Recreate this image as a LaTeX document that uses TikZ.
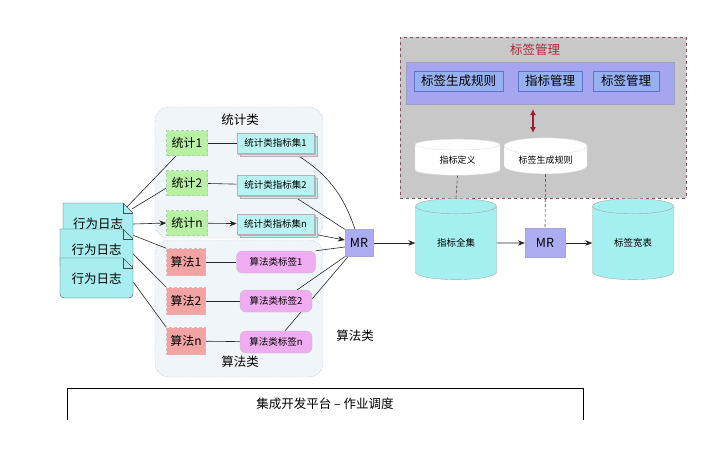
\documentclass[tikz,border=0pt]{standalone}
\usepackage{fontspec}
\setmainfont{Noto Sans CJK SC}
\usepackage{tikz}
\usetikzlibrary{arrows.meta, positioning, shapes.geometric, shadows, backgrounds}
\definecolor{grpfill}{RGB}{240,245,249}
\definecolor{statgreen}{RGB}{184,240,164}
\definecolor{setcyan}{RGB}{184,242,242}
\definecolor{algred}{RGB}{242,164,164}
\definecolor{tagpink}{RGB}{240,172,240}
\definecolor{logcyan}{RGB}{168,238,240}
\definecolor{mrpurple}{RGB}{172,172,240}
\definecolor{dbcyan}{RGB}{164,240,240}
\definecolor{mgrgray}{RGB}{200,200,200}
\definecolor{mgrborder}{RGB}{130,80,95}
\definecolor{mgrtitle}{RGB}{170,40,60}
\definecolor{panelblue}{RGB}{166,166,240}
\definecolor{btnblue}{RGB}{150,176,240}
\definecolor{btnborder}{RGB}{95,115,205}
\definecolor{arrred}{RGB}{165,25,50}
\pgfdeclarelayer{grp}
\pgfdeclarelayer{edges}
\pgfsetlayers{grp,edges,main}

\begin{document}
\begin{tikzpicture}[x=1pt, y=-1pt,
    >={Stealth[length=7pt,width=5.5pt]},
    grpbox/.style={
        draw=gray!80, densely dotted, rounded corners=14pt,
        fill=grpfill, minimum width=168pt, minimum height=#1
    },
    statbox/.style={
        fill=statgreen, draw=green!50!black!35, densely dashed,
        minimum width=41pt, minimum height=25pt, inner sep=0pt,
        font=\fontsize{12}{14}\selectfont
    },
    setbox/.style={
        fill=setcyan, draw=gray!60,
        double copy shadow={shadow xshift=1.5pt, shadow yshift=-1.5pt,
            fill=setcyan, draw=gray!60},
        minimum width=77pt, minimum height=20pt, inner sep=0pt,
        font=\fontsize{9.5}{11}\selectfont
    },
    algbox/.style={
        fill=algred, draw=red!40!gray!40, densely dashed,
        minimum width=39pt, minimum height=27pt, inner sep=0pt,
        font=\fontsize{12}{14}\selectfont
    },
    tagbox/.style={
        fill=tagpink, draw=gray!50, rounded corners=6pt,
        minimum width=#1, minimum height=22pt, inner sep=0pt,
        font=\fontsize{9.5}{11}\selectfont
    },
    mrbox/.style={
        fill=mrpurple, draw=mrpurple!80!gray,
        inner sep=0pt, font=\fontsize{12.5}{14}\selectfont
    },
    dbcyl/.style={
        cylinder, shape border rotate=90, aspect=0.4,
        draw=gray!70, fill=dbcyan,
        minimum width=81pt, minimum height=81pt, inner sep=0pt,
        font=\fontsize{9.5}{11}\selectfont
    },
    rulecyl/.style={
        cylinder, shape border rotate=90, aspect=0.3,
        draw=gray!25, fill=white,
        minimum width=#1, minimum height=36pt, inner sep=0pt,
        font=\fontsize{9}{11}\selectfont
    },
    btn/.style={
        fill=btnblue, draw=btnborder,
        minimum width=#1, minimum height=20pt, inner sep=0pt,
        font=\fontsize{12.5}{14}\selectfont
    },
    lbl/.style={font=\fontsize{12.5}{14}\selectfont, inner sep=0pt},
    logshape/.style={fill=logcyan, draw=black!70},
    link/.style={draw=black!85, line width=0.6pt},
    dashlink/.style={draw=black!70, densely dashed, line width=0.6pt}
]
\useasboundingbox (0,0) rectangle (706,467);

% =========================
% TAG MANAGEMENT
% =========================
\begin{pgfonlayer}{grp}
\node[fill=mgrgray, draw=mgrborder, dashed,
      minimum width=286pt, minimum height=161pt] (MGR) at (543,117.5) {};
\node[grpbox=131pt] (GSTAT) at (239,172.5) {};
\node[grpbox=137pt] (GALG) at (239,308.5) {};
\end{pgfonlayer}
\node[lbl, text=mgrtitle] (MGRT) at (535,50) {标签管理};

\node[fill=panelblue, draw=panelblue!70!black!70,
      minimum width=268pt, minimum height=42pt] (PANEL) at (540,83) {};
\node[btn=89pt] (B1) at (458.5,81) {标签生成规则};
\node[btn=64pt] (B2) at (550,81) {指标管理};
\node[btn=66pt] (B3) at (626,81) {标签管理};

\coordinate (ARRTOP) at (533,109);
\coordinate (ARRBOT) at (533,133);
\draw[{Latex[length=6pt,width=6pt]}-{Latex[length=6pt,width=6pt]},
      line width=2pt, arrred] (ARRTOP) -- (ARRBOT);

\node[rulecyl=85pt] (DEF) at (457.5,160) {指标定义};
\node[rulecyl=83pt] (RULE) at (545.5,160) {标签生成规则};

% =========================
% GROUPS
% =========================
\node[lbl] (STATL) at (240,120) {统计类};
\node[lbl] (ALGL) at (240,362) {算法类};
\node[lbl] (ALGSIDE) at (355,336) {算法类};

% =========================
% STATISTICS
% =========================
\node[statbox] (S1) at (187,143) {统计1};
\node[statbox] (S2) at (187,183) {统计2};
\node[statbox] (SN) at (187,223) {统计n};

\node[setbox, right=29pt of S1] (SET1) {统计类指标集1};
\node[setbox, right=29pt of S2, yshift=-2pt] (SET2) {统计类指标集2};
\node[setbox, right=29pt of SN, yshift=-1pt] (SETN) {统计类指标集n};

% =========================
% ALGORITHMS
% =========================
\node[algbox] (A1) at (186,262) {算法1};
\node[algbox] (A2) at (186,301) {算法2};
\node[algbox] (AN) at (186,341) {算法n};

\node[tagbox=79pt] (T1) at (276,262) {算法类标签1};
\node[tagbox=72pt] (T2) at (276,301) {算法类标签2};
\node[tagbox=72pt] (TN) at (276,342) {算法类标签n};

% =========================
% LOGS
% =========================
\foreach \n/\xl/\yt in {1/63/203, 2/60/229, 3/60/258} {
  \filldraw[logshape] (\xl,\yt) -- (123,\yt) -- (133,\yt+10)
      [rounded corners=4pt] -- (133,\yt+40) -- (\xl,\yt+40)
      [sharp corners] -- cycle;
  \draw[black!70] (123,\yt) -- (123,\yt+10) -- (133,\yt+10);
  \node[lbl, minimum width=133pt-\xl pt, minimum height=40pt]
      (LOG\n) at ({(\xl+133)/2},\yt+21) {行为日志};
}

% =========================
% MR / STORES
% =========================
\node[mrbox, minimum width=28pt, minimum height=27pt] (MR1) at (359,243) {MR};
\node[dbcyl] (ALL) at (456,243) {指标全集};
\node[mrbox, minimum width=40pt, minimum height=29pt] (MR2) at (545,243) {MR};
\node[dbcyl] (WIDE) at (633,243) {标签宽表};

% =========================
% PLATFORM
% =========================
\node[lbl, minimum width=516pt, minimum height=32pt] (PLAT) at (325,404)
  {集成开发平台 – 作业调度};
\draw[black, semithick] (PLAT.south west) -- (PLAT.north west)
  -- (PLAT.north east) -- (PLAT.south east);

% =========================
% LINKS
% =========================
\begin{pgfonlayer}{edges}
\draw[link] ([shift={(-10,7)}]LOG1.north east) -- ([xshift=10pt]S1.south west);
\draw[link] ([shift={(-1,5)}]LOG1.north east) -- ([yshift=-5pt]S2.west);
\draw[link, ->] (LOG1.east) -- (SN.west);
\draw[link] ([xshift=-14pt]LOG2.north east) -- (A1.north west);
\draw[link] ([yshift=-4pt]LOG2.east) -- (A2.north west);
\draw[link] ([yshift=-3pt]LOG3.east) -- (AN.north west);

\draw[link] (S1) -- (SET1);
\draw[link] (S2) -- (SET2);
\draw[link, ->] (SN) -- (SETN);
\draw[link] (A1) -- (T1);
\draw[link] (A2) -- (T2);
\draw[link] (AN) -- (TN);

\draw[link] ([xshift=-20pt]SET1.south east) to[bend left=20] ([xshift=-4pt]MR1.north);
\draw[link] ([xshift=-22pt]SET2.south east) -- (MR1.north west);
\draw[link, ->] (SETN.south east) -- ([yshift=3pt]MR1.west);
\draw[link] (T1.north east) -- ([yshift=-4pt]MR1.west);
\draw[link] ([xshift=-15pt]T2.north east) -- (MR1.south west);
\draw[link] ([xshift=9pt]TN.north) -- ([xshift=-11pt]MR1.south);

\draw[link, ->] (MR1) -- (ALL);
\draw[link, ->] (ALL) -- (MR2);
\draw[link, ->] (MR2) -- (WIDE);

\draw[dashlink] (DEF.south) -- (ALL.north);
\draw[dashlink] (RULE.south) -- (MR2.north);
\end{pgfonlayer}

\end{tikzpicture}
\end{document}
